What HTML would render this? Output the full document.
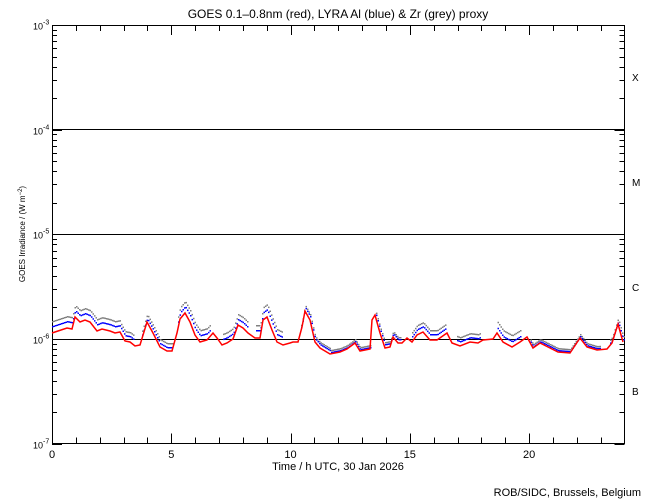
<!DOCTYPE html>
<html><head><meta charset="utf-8"><style>
body{margin:0;background:#fff;}
svg{display:block;font-family:"Liberation Sans",sans-serif;}
</style></head><body>
<svg id="s" width="650" height="500" xmlns="http://www.w3.org/2000/svg">
<rect width="650" height="500" fill="#fff"/>
<text x="338" y="18" font-size="12" text-anchor="middle">GOES 0.1–0.8nm (red), LYRA Al (blue) &amp; Zr (grey) proxy</text>
<text x="338" y="470" font-size="11" text-anchor="middle">Time / h UTC, 30 Jan 2026</text>
<text x="641" y="496" font-size="11" text-anchor="end">ROB/SIDC, Brussels, Belgium</text>
<text transform="translate(25,234) rotate(-90)" font-size="8" text-anchor="middle">GOES Irradiance / (W m<tspan dy="-3" font-size="6">−2</tspan><tspan dy="3">)</tspan></text>
<g font-size="10">
<text x="632" y="81">X</text><text x="632" y="186">M</text><text x="632" y="291">C</text><text x="632" y="395">B</text>
</g>
<g id="ax" stroke="#000" stroke-width="1" fill="none"></g>
<g id="lab" font-size="9"></g>
<g id="pts"></g>
</svg>
<script>
var ns="http://www.w3.org/2000/svg";
function el(t,a,p){var e=document.createElementNS(ns,t);for(var k in a)e.setAttribute(k,a[k]);p.appendChild(e);return e;}
var ax=document.getElementById('ax'),lab=document.getElementById('lab'),pts=document.getElementById('pts');
var L=52,R=624.5,T=25,B=443.5,D=104.6;
el('rect',{x:L+.5,y:T+.5,width:R-L-.5,height:B-T-.5},ax);
[129.5,234.5,339.5].forEach(function(y){el('line',{x1:L,x2:R,y1:y,y2:y},ax);});
for(var d=0;d<4;d++){var base=B-d*D;
 for(var k=2;k<=9;k++){var y=Math.round(base-Math.log10(k)*D)+.5;
  el('line',{x1:L,x2:L+5,y1:y,y2:y},ax);el('line',{x1:R-5,x2:R,y1:y,y2:y},ax);}
 }
for(var d=0;d<5;d++){var y=Math.round(B-d*D)+.5;el('line',{x1:L,x2:L+10,y1:y,y2:y},ax);el('line',{x1:R-10,x2:R,y1:y,y2:y},ax);
 var t=el('text',{x:33,y:y+4},lab);t.textContent='10';var s=el('tspan',{dy:-5,'font-size':7},t);s.textContent=String(-7+d);}
var pxh=(R-L)/24;
for(var h=1;h<24;h++){var x=Math.round(L+h*pxh)+.5,len=(h%5==0)?10:6;
 el('line',{x1:x,x2:x,y1:B,y2:B-len},ax);el('line',{x1:x,x2:x,y1:T,y2:T+len},ax);}
[0,5,10,15,20].forEach(function(h){var t=el('text',{x:L+h*pxh,y:458,'text-anchor':'middle','font-size':11},lab);t.textContent=h;});
var red=[[52,333],[58,331],[67,328],[72,329],[75,317],[80,322],[85,320],[90,322],[97,331],[102,329],[110,331],[115,333],[120,332],[125,341],[130,342],[135,346],[140,345],[147,322],[153,333],[160,347],[167,351],[172,351],[177,333],[180,319],[185,313],[190,322],[195,335],[200,342],[207,340],[213,333],[217,338],[222,345],[227,343],[233,339],[238,325],[243,328],[248,333],[255,338],[260,338],[263,320],[267,317],[272,330],[277,342],[283,345],[290,343],[293,342],[298,342],[302,327],[305,311],[310,320],[315,342],[320,348],[330,354],[340,352],[347,349],[355,343],[360,351],[370,349],[372,320],[375,315],[380,333],[385,348],[390,347],[393,337],[398,343],[402,343],[407,338],[412,342],[417,335],[423,332],[430,340],[437,340],[447,333],[452,343],[460,346],[470,342],[478,343],[483,340],[493,339],[497,333],[503,342],[512,347],[520,342],[527,337],[533,348],[540,343],[550,348],[558,352],[570,353],[580,338],[587,347],[597,350],[607,349],[612,343],[618,324],[623,342]];
function ry(x){for(var i=0;i<red.length-1;i++){if(x<=red[i+1][0]){var a=red[i],b=red[i+1];return a[1]+(b[1]-a[1])*(x-a[0])/(b[0]-a[0]);}}return red[red.length-1][1];}
var segs=[[52,120,7,12],[120,134,6,10],[142,172,4,8],[178,210,7,12],[223,248,6,11],[255,282,8,13],[300,330,4,6],[330,370,2,4],[375,400,4,6],[412,445,6,10],[457,480,5,9],[497,520,6,12],[530,600,2,4],[610,624,3,6]];
for(var x=52;x<624;x+=1.5){var y=ry(x);
 segs.forEach(function(s){if(x>=s[0]&&x<=s[1]){
  el('rect',{x:x,y:y-s[3],width:1.5,height:1.5,fill:'#808080'},pts);
  el('rect',{x:x,y:y-s[2],width:1.5,height:1.5,fill:'#0000ff'},pts);}});
}
el('polyline',{points:red.map(function(p){return p.join(',');}).join(' '),fill:'none',stroke:'#ff0000','stroke-width':1.5},pts);
</script>
</body></html>
